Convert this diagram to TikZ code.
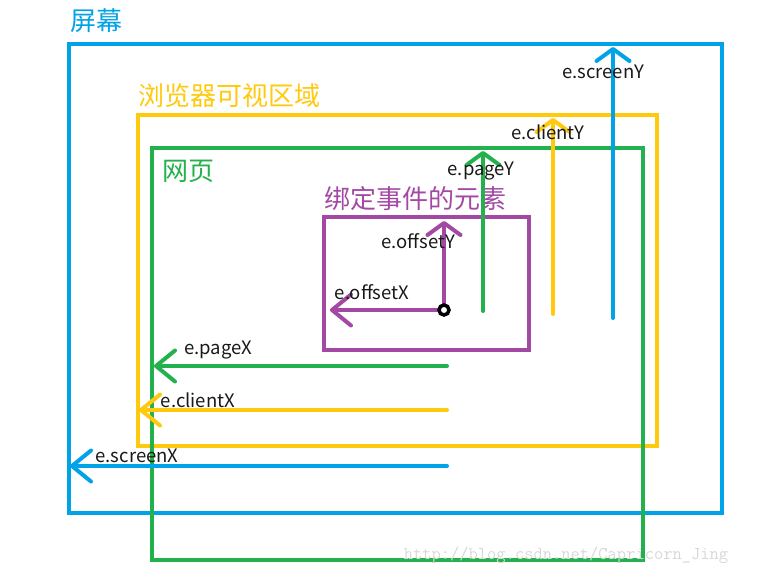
\documentclass[tikz,border=0pt]{standalone}
\usepackage{fontspec}
\setmainfont{Noto Sans CJK SC}
\usetikzlibrary{arrows.meta}
\definecolor{scrblue}{RGB}{0,162,232}
\definecolor{cliyellow}{RGB}{255,201,14}
\definecolor{pggreen}{RGB}{34,177,76}
\definecolor{elpurple}{RGB}{163,73,164}
\definecolor{wmgray}{RGB}{215,215,215}
\begin{document}
\begin{tikzpicture}[x=1pt,y=-1pt,
  box/.style={line width=4pt},
  title/.style={font=\fontsize{26}{26}\selectfont, inner sep=0pt},
  lab/.style={font=\fontsize{18.5}{18.5}\selectfont, text=black!90, inner sep=0pt},
  varrow/.style={line width=4pt, line cap=round, -{Straight Barb[length=12pt,width=33pt,round]}},
  harrow/.style={line width=4pt, line cap=round, -{Straight Barb[length=19pt,width=31pt,round]}}]
\useasboundingbox (0,0) rectangle (766,569);
% boxes
\draw[box, scrblue] (69,44) rectangle (722,513);
\draw[box, cliyellow] (138,115) rectangle (657,446);
\draw[box, pggreen] (152,148) rectangle (643,560);
\draw[box, elpurple] (324,217) rectangle (529,350);
% titles
\node[title, text=scrblue] (tscreen) at (96,21) {屏幕};
\node[title, text=cliyellow] (tclient) at (229,96) {浏览器可视区域};
\node[title, text=pggreen] (tpage) at (188,171) {网页};
\node[title, text=elpurple] (telem) at (415,199) {绑定事件的元素};
% coordinates
\coordinate (o) at (444,310);
\coordinate (oyT) at (444,221);
\coordinate (oxT) at (330,310);
\coordinate (pyS) at (483,311);
\coordinate (pyT) at (483,151);
\coordinate (cyS) at (553,314);
\coordinate (cyT) at (553,118);
\coordinate (syS) at (613,318);
\coordinate (syT) at (613,47);
\coordinate (pxS) at (447,366);
\coordinate (pxT) at (154,366);
\coordinate (cxS) at (447,410);
\coordinate (cxT) at (139,410);
\coordinate (sxS) at (447,466);
\coordinate (sxT) at (70,466);
% arrows
\draw[varrow, elpurple] (o) -- (oyT);
\draw[harrow, elpurple] (o) -- (oxT);
\draw[varrow, pggreen] (pyS) -- (pyT);
\draw[varrow, cliyellow] (cyS) -- (cyT);
\draw[varrow, scrblue] (syS) -- (syT);
\draw[harrow, pggreen] (pxS) -- (pxT);
\draw[harrow, cliyellow] (cxS) -- (cxT);
\draw[harrow, scrblue] (sxS) -- (sxT);
\node[circle, draw=black, fill=white, line width=3.5pt, minimum size=10pt, inner sep=0pt] (origin) at (o) {};
% labels
\node[lab] (lsy) at (603,72) {e.screenY};
\node[lab] (lcy) at (548,132) {e.clientY};
\node[lab] (lpy) at (481,171) {e.pageY};
\node[lab] (loy) at (418,241) {e.offsetY};
\node[lab] (lox) at (372,292) {e.offsetX};
\node[lab] (lpx) at (218,350) {e.pageX};
\node[lab] (lcx) at (198,400) {e.clientX};
\node[lab] (lsx) at (137,456) {e.screenX};
% watermark
\node[font=\ttfamily\fontsize{18}{18}\selectfont, text=wmgray, inner sep=0pt] (wm) at (566,555) {http://blog.csdn.net/Capricorn\_Jing};
\end{tikzpicture}
\end{document}
